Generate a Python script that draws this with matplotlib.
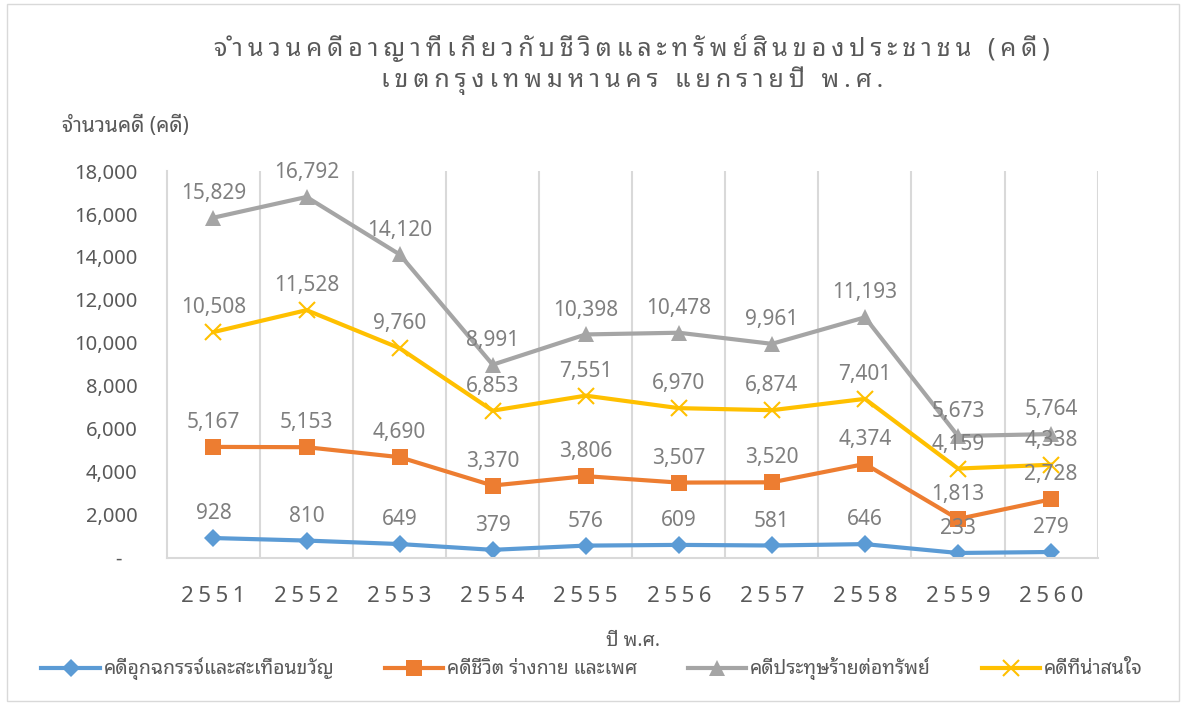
import matplotlib
matplotlib.use('Agg')
import matplotlib.pyplot as plt
from matplotlib.patches import Rectangle

plt.rcParams['font.family'] = ['Noto Sans Thai Looped', 'DejaVu Sans']

years = ['2551', '2552', '2553', '2554', '2555', '2556', '2557', '2558', '2559', '2560']
sexual = [928, 810, 649, 379, 576, 609, 581, 646, 233, 279]
life = [5167, 5153, 4690, 3370, 3806, 3507, 3520, 4374, 1813, 2728]
prop = [15829, 16792, 14120, 8991, 10398, 10478, 9961, 11193, 5673, 5764]
interest = [10508, 11528, 9760, 6853, 7551, 6970, 6874, 7401, 4159, 4338]

names = ['คดีอุกฉกรรจ์และสะเทือนขวัญ', 'คดีชีวิต ร่างกาย และเพศ',
         'คดีประทุษร้ายต่อทรัพย์', 'คดีที่น่าสนใจ']
colors = ['#5B9BD5', '#ED7D31', '#A5A5A5', '#FFC000']
markers = ['D', 's', '^', 'x']
msizes = [9, 12, 12, 12]

txt = '#595959'


def spaced(s, gap='\u2009'):
    # put a thin gap between letter clusters, keep Thai marks on their base letter
    marks = set(chr(c) for c in [0x0E31] + list(range(0x0E34, 0x0E3B)) + list(range(0x0E47, 0x0E4F)))
    out = ''
    for i, ch in enumerate(s):
        if i > 0 and ch not in marks:
            out += gap
        out += ch
    return out


fig = plt.figure(figsize=(11.84, 7.04), dpi=100)
fig.patches.append(Rectangle((0.006, 0.004), 0.99, 0.99, transform=fig.transFigure,
                             fill=False, edgecolor='#D9D9D9', linewidth=1))
ax = fig.add_axes([0.141, 0.2074, 0.786, 0.5497])

x = list(range(len(years)))
series = [sexual, life, prop, interest]
for vals, name, c, m, ms in zip(series, names, colors, markers, msizes):
    ax.plot(x, vals, color=c, linewidth=3, marker=m, markersize=ms,
            markeredgewidth=1.5 if m == 'x' else 0, markeredgecolor=c, label=name)
    for xi, v in zip(x, vals):
        ax.annotate(f'{v:,}', (xi, v), xytext=(0, 10), textcoords='offset points',
                    ha='center', va='bottom', fontsize=15, color='#7F7F7F')

ax.set_xlim(-0.5, len(years) - 0.5)
ax.set_ylim(0, 18000)
ax.set_yticks(range(0, 18001, 2000))
ax.set_yticklabels(['-   '] + [f'{v:,}' for v in range(2000, 18001, 2000)])
ax.set_xticks(x)
ax.set_xticklabels(['\u2009'.join(y) for y in years])
ax.tick_params(axis='y', length=0, labelsize=14.5, colors=txt, pad=21)
ax.tick_params(axis='x', length=0, labelsize=16, colors=txt, pad=20)
for b in [i + 0.5 for i in x]:
    ax.axvline(b, color='#D9D9D9', linewidth=1.5, zorder=0)
for s in ['top', 'right']:
    ax.spines[s].set_visible(False)
ax.spines['left'].set_color('#D9D9D9')
ax.spines['bottom'].set_color('#D9D9D9')
ax.spines['left'].set_linewidth(1.5)
ax.spines['bottom'].set_linewidth(1.5)

fig.text(0.534, 0.932, spaced('จำนวนคดีอาญาที่เกี่ยวกับชีวิตและทรัพย์สินของประชาชน (คดี)'),
         ha='center', va='center', fontsize=18, color=txt)
fig.text(0.534, 0.885, spaced('เขตกรุงเทพมหานคร แยกรายปี พ.ศ.'),
         ha='center', va='center', fontsize=18, color=txt)
fig.text(0.052, 0.82, 'จำนวนคดี (คดี)', ha='left', va='center', fontsize=15, color=txt)
fig.text(0.535, 0.09, 'ปี พ.ศ.', ha='center', va='center', fontsize=14, color=txt)

fig.legend(loc='center', bbox_to_anchor=(0.5, 0.05), ncol=4, frameon=False,
           fontsize=14, labelcolor=txt, handlelength=3, columnspacing=2.6, handletextpad=0.2)

fig.savefig('out.png', dpi=100)
